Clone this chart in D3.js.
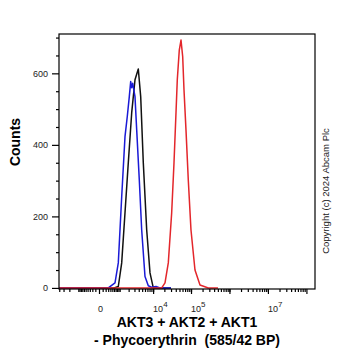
<!DOCTYPE html>
<html>
<head>
<meta charset="utf-8">
<script src="https://cdn.jsdelivr.net/npm/d3@7"></script>
<style>
  body { margin: 0; background: #fff; }
  svg { display: block; font-family: Arial, "Liberation Sans", sans-serif; }
</style>
</head>
<body>
<script>
let width = 362, height = 351
let plot = { left: 59, right: 315, top: 34, bottom: 289 }

// channel values (PE intensity) and counts
let blackX = [-4000, 600, 888, 1181, 1528, 1950, 2483, 3113, 3882, 4544, 5378, 6683, 8229, 10115, 30000]
let blackY = [0, 0, 4, 70, 210, 350, 490, 582, 612, 535, 350, 162, 42, 0, 0]

let blueX = [-4000, 304, 656, 888, 1181, 1528, 1814, 2096, 2314, 2483, 2661, 3113, 3490, 4148, 4848, 5997, 7395, 9000, 12000, 15300, 30000]
let blueY = [0, 0, 14, 70, 255, 423, 480, 535, 577, 560, 572, 535, 442, 302, 162, 32, 6, 2, 4, 0, 0]

let redX = [-4000, 16980, 20780, 25400, 31200, 35900, 40500, 43800, 49400, 54800, 60650, 65600, 73950, 84950, 99900, 127000, 171500, 282000, 504000]
let redY = [0, 0, 14, 70, 210, 350, 490, 582, 665, 693, 647, 554, 442, 302, 162, 50, 8, 0, 0]

let yMajor = [0, 200, 400, 600]
let yMinor = [50, 100, 150, 250, 300, 350, 450, 500, 550, 650, 700]
let xMajor = [0, 1e4, 1e5, 1e6, 1e7, 1e8]
let xLabels = [[0, null], [1e4, 4], [1e5, 5], [1e7, 7]]

let svg = d3.select('body').append('svg')
    .attr('width', width).attr('height', height)

let x = d3.scaleSymlog().constant(409)
    .domain([-4066, 1.67e8])
    .range([plot.left, plot.right])
let y = d3.scaleLinear()
    .domain([-3, 710])
    .range([plot.bottom, plot.top])

// minor x ticks: 1..9 x 10^k on both sides of zero
let xMinor = []
for (let k = 2; k <= 7; k++) {
    for (let m = 1; m <= 9; m++) {
        let v = m * Math.pow(10, k)
        if (v < 1.67e8) xMinor.push(v)
        if (v <= 4066) xMinor.push(-v)
    }
}

// axes
svg.append('g')
    .attr('transform', `translate(0, ${plot.bottom})`)
    .call(d3.axisBottom(x).tickValues(xMinor).tickSize(3).tickFormat(''))
    .call(g => g.select('.domain').remove())
svg.append('g')
    .attr('transform', `translate(0, ${plot.bottom})`)
    .call(d3.axisBottom(x).tickValues(xMajor).tickSize(5).tickFormat(''))
    .call(g => g.select('.domain').remove())
svg.append('g')
    .attr('transform', `translate(${plot.left}, 0)`)
    .call(d3.axisLeft(y).tickValues(yMinor).tickSize(3).tickFormat(''))
    .call(g => g.select('.domain').remove())
svg.append('g')
    .attr('transform', `translate(${plot.left}, 0)`)
    .call(d3.axisLeft(y).tickValues(yMajor).tickSize(7).tickPadding(4))
    .call(g => g.select('.domain').remove())
    .call(g => g.selectAll('text').attr('font-size', 9).attr('font-family', 'Arial, sans-serif').attr('fill', '#222'))
svg.selectAll('.tick line').attr('stroke', '#000').attr('stroke-width', 1.2)

// x labels with superscripts
xLabels.forEach(([v, e]) => {
    let t = svg.append('text')
        .attr('y', 311.5)
        .attr('font-size', 9)
        .attr('fill', '#222')
    if (e === null) {
        t.attr('x', x(v) + 1.5).attr('text-anchor', 'middle').text('0')
    } else {
        t.attr('x', x(v)).attr('text-anchor', 'start').text('10')
        t.append('tspan').attr('dy', -5).attr('font-size', 8).text(e)
    }
})

// curves
let line = d3.line().x(d => x(d[0])).y(d => y(d[1]))
let series = [
    { xs: blackX, ys: blackY, color: '#111111' },
    { xs: blueX, ys: blueY, color: '#1a1ad6' },
    { xs: redX, ys: redY, color: '#e3262b' }
]
series.forEach(s => {
    svg.append('path')
        .datum(s.xs.map((v, i) => [v, s.ys[i]]))
        .attr('fill', 'none')
        .attr('stroke', s.color)
        .attr('stroke-width', 1.5)
        .attr('stroke-linejoin', 'round')
        .attr('d', line)
})

// frame
svg.append('rect')
    .attr('x', plot.left).attr('y', plot.top)
    .attr('width', plot.right - plot.left).attr('height', plot.bottom - plot.top)
    .attr('fill', 'none').attr('stroke', '#000').attr('stroke-width', 1.2)

// titles
svg.append('text')
    .attr('x', 187).attr('y', 327)
    .attr('text-anchor', 'middle')
    .attr('font-size', 14).attr('font-weight', 'bold')
    .text('AKT3 + AKT2 + AKT1')
svg.append('text')
    .attr('x', 187).attr('y', 344.5)
    .attr('text-anchor', 'middle')
    .attr('font-size', 14).attr('font-weight', 'bold')
    .style('white-space', 'pre')
    .text('- Phycoerythrin  (585/42 BP)')
svg.append('text')
    .attr('transform', 'translate(20, 142) rotate(-90)')
    .attr('text-anchor', 'middle')
    .attr('font-size', 14).attr('font-weight', 'bold')
    .text('Counts')
svg.append('text')
    .attr('transform', 'translate(328.5, 191) rotate(-90)')
    .attr('text-anchor', 'middle')
    .attr('font-size', 9.5)
    .attr('fill', '#222')
    .text('Copyright (c) 2024 Abcam Plc')
</script>
</body>
</html>
